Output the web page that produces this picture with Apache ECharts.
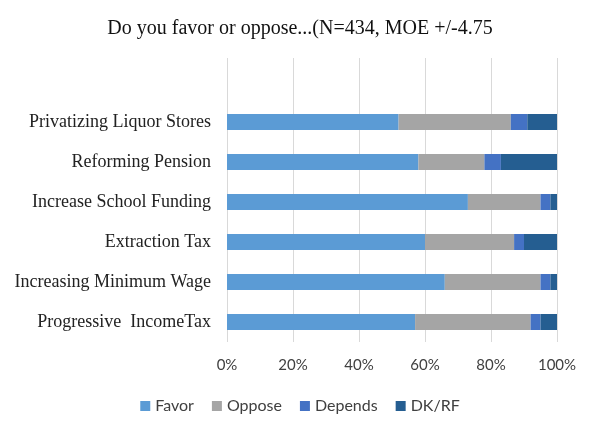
<!DOCTYPE html>
<html>
<head>
<meta charset="utf-8">
<script src="https://cdn.jsdelivr.net/npm/echarts@6/dist/echarts.min.js"></script>
<style>
	html, body { margin: 0; padding: 0; background: #fff; }
	#chart { width: 600px; height: 434px; }
</style>
</head>
<body>
<div id="chart"></div>
<script>
	// rows bottom to top, as the category axis draws them
	var categories = ['Progressive  IncomeTax', 'Increasing Minimum Wage', 'Extraction Tax',
		'Increase School Funding', 'Reforming Pension', 'Privatizing Liquor Stores'];
	var favor   = [57, 66, 60, 73, 58, 52];
	var oppose  = [35, 29, 27, 22, 20, 34];
	var depends = [3, 3, 3, 3, 5, 5];
	var dkrf    = [5, 2, 10, 2, 17, 9];
	var xTicks = [0, 20, 40, 60, 80, 100];

	var colors = ['#5B9BD5', '#A5A5A5', '#4472C4', '#255E91'];
	var sans = 'Lato';
	var serif = 'Liberation Serif';

	function bar(name, data) {
		return {
			name: name,
			type: 'bar',
			stack: 'all',
			xAxisIndex: 0,
			yAxisIndex: 0,
			barWidth: 16,
			data: data
		};
	}

	var myChart = echarts.init(document.getElementById('chart'));

	myChart.setOption({
		color: colors,
		animation: false,
		title: {
			text: 'Do you favor or oppose...(N=434, MOE +/-4.75',
			left: 'center',
			top: 14,
			textStyle: { fontFamily: serif, fontSize: 20, fontWeight: 'normal', color: '#111' }
		},
		legend: {
			bottom: 15,
			left: 'center',
			itemWidth: 10,
			itemHeight: 10,
			itemGap: 18,
			icon: 'rect',
			textStyle: { fontFamily: sans, fontSize: 16, color: '#404040' },
			data: ['Favor', 'Oppose', 'Depends', 'DK/RF']
		},
		grid: [
			{ left: 227, right: 43, top: 102, height: 240 },
			// empty strip above the bars so gridlines run up like the original
			{ left: 227, right: 43, top: 58, height: 44 }
		],
		xAxis: [{
			gridIndex: 0,
			type: 'value',
			min: xTicks[0],
			max: xTicks[xTicks.length - 1],
			interval: 20,
			axisLine: { show: false },
			axisTick: { show: false },
			splitLine: { lineStyle: { color: '#d9d9d9', width: 1 } },
			axisLabel: {
				margin: 16,
				fontFamily: sans,
				fontSize: 15,
				color: '#404040',
				formatter: '{value}%'
			}
		}, {
			gridIndex: 1,
			type: 'value',
			min: 0,
			max: 100,
			interval: 20,
			axisLine: { show: false },
			axisTick: { show: false },
			axisLabel: { show: false },
			splitLine: { lineStyle: { color: '#d9d9d9', width: 1 } }
		}],
		yAxis: [{
			gridIndex: 0,
			type: 'category',
			data: categories,
			axisLine: { show: false },
			axisTick: { show: false },
			axisLabel: {
				margin: 16,
				fontFamily: serif,
				fontSize: 18,
				color: '#222'
			}
		}, {
			gridIndex: 1,
			type: 'category',
			data: [],
			axisLine: { show: false },
			axisTick: { show: false },
			axisLabel: { show: false }
		}],
		series: [
			bar('Favor', favor),
			bar('Oppose', oppose),
			bar('Depends', depends),
			bar('DK/RF', dkrf)
		]
	});
</script>
</body>
</html>
